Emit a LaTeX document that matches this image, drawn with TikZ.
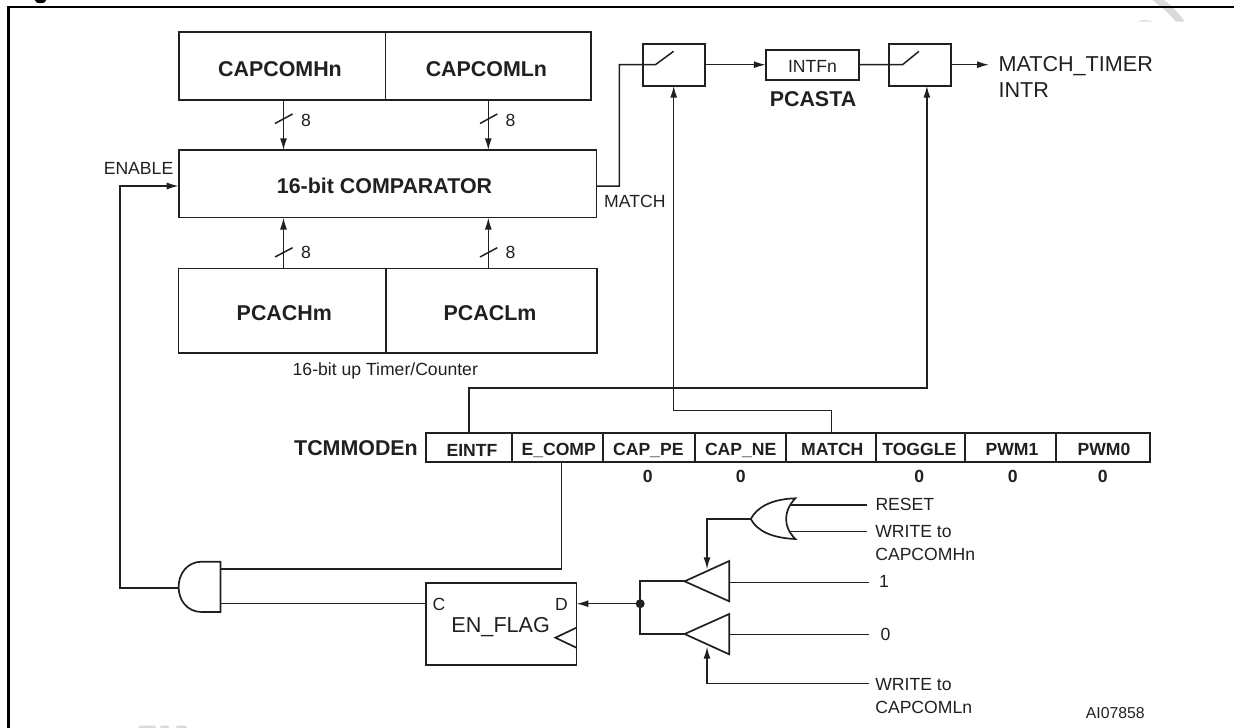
\documentclass[tikz,border=0pt]{standalone}
\usepackage{fontspec}
\setmainfont{Liberation Sans}
\usetikzlibrary{arrows.meta,calc}
\definecolor{ink}{HTML}{231F20}
\definecolor{wm}{HTML}{DADADA}
\tikzset{
  boxn/.style={draw=ink,line width=1.8pt,inner sep=0pt,outer sep=0pt},
  wire/.style={draw=ink,line width=1.5pt,line join=miter},
  arr/.style={wire,-{Latex[length=12pt,width=7pt]}},
  gate/.style={draw=ink,line width=1.7pt,line join=miter},
  big/.style={text=ink,inner sep=0pt,font=\bfseries\fontsize{21.4}{24}\selectfont,text height=15.4pt,text depth=0pt},
  bit/.style={text=ink,inner sep=0pt,font=\bfseries\fontsize{17.6}{20}\selectfont,text height=12.6pt,text depth=0pt},
  lab/.style={text=ink,inner sep=0pt,font=\fontsize{17.6}{20}\selectfont,text height=12.6pt,text depth=0pt},
  biglab/.style={text=ink,inner sep=0pt,font=\fontsize{21.6}{24}\selectfont,text height=15.5pt,text depth=0pt},
  twolab/.style={text=ink,inner sep=0pt,outer sep=0pt,anchor=north west,align=left,font=\fontsize{17.6}{22.4}\selectfont},
  wmark/.style={fill=wm,draw=none},
}
\newcommand{\rbox}[6]{%
  \pgfmathsetmacro{\rw}{#5-#3}\pgfmathsetmacro{\rh}{#6-#4}%
  \pgfmathsetmacro{\rx}{(#3+#5)/2}\pgfmathsetmacro{\ry}{(#4+#6)/2}%
  \node[#2,minimum width=\rw pt,minimum height=\rh pt] (#1) at (\rx,\ry) {};}
\begin{document}
\begin{tikzpicture}[x=1pt,y=-1pt]
\useasboundingbox (0,0) rectangle (1234,728);
\clip (0,0) rectangle (1234,728);
% faint remains of a watermark and the cut title
\fill[wmark] (1152.3,0) .. controls (1160,6) and (1168,12) .. (1175.7,21.7) -- (1184.7,21.7) .. controls (1179,13) and (1172,6) .. (1164,0) -- cycle;
\fill[wmark] (1137,21.7) .. controls (1142,19.5) and (1148,19.5) .. (1153,21.7) -- cycle;
\fill[wmark] (138,728) -- (140,725.5) -- (155,725.5) -- (156,728) -- cycle;
\fill[wmark] (160,728) -- (161,725.5) -- (168,725.5) -- (169,728) -- cycle;
\fill[wmark] (176,728) -- (177,725.5) -- (186,725.5) -- (187,728) -- cycle;
\fill[black] (40.5,0) ellipse (5.8pt and 3.2pt);
% frame
\draw[line width=2.8pt,black] (8.5,728) -- (8.5,7) -- (1234,7);

% registers and comparator
\rbox{caph}{boxn}{178.7}{32}{385.5}{99.7}
\rbox{capl}{boxn}{385.5}{32}{590.7}{99.7}
\rbox{cmp}{boxn}{178.7}{150.3}{596.5}{217.5}
\rbox{pcah}{boxn}{178.5}{268.5}{385.7}{353.3}
\rbox{pcal}{boxn}{385.7}{268.5}{597}{353.3}
\node[big] (caphT) at (280,69.2) {CAPCOMHn};
\node[big] (caplT) at (486.4,69) {CAPCOMLn};
\node[big] (cmpT) at (384.5,185.3) {16-bit COMPARATOR};
\node[big] (pcahT) at (284.3,312.3) {PCACHm};
\node[big] (pcalT) at (490,312.3) {PCACLm};
\node[lab] (timer) at (385.3,369) {16-bit up Timer/Counter};
\node[lab,anchor=west] (enable) at (103.6,168.5) {ENABLE};
\node[lab,anchor=west] (matchL) at (604,201) {MATCH};

% buses
\coordinate (b1) at (283.5,0);
\coordinate (b2) at (488.3,0);
\draw[arr] (caph.south -| b1) -- (cmp.north -| b1);
\draw[arr] (capl.south -| b2) -- (cmp.north -| b2);
\draw[arr] (pcah.north -| b1) -- (cmp.south -| b1);
\draw[arr] (pcal.north -| b2) -- (cmp.south -| b2);
\draw[wire] (275,123.5) -- (292.6,114);
\draw[wire] (480,123.5) -- (497.3,114);
\draw[wire] (275,257) -- (292.6,247.7);
\draw[wire] (480,257) -- (497.3,247.7);
\node[lab] (n1) at (306,120) {8};
\node[lab] (n2) at (510.5,120) {8};
\node[lab] (n3) at (306,252.5) {8};
\node[lab] (n4) at (510.5,252) {8};

% top signal chain
\rbox{sw1}{boxn}{643.3}{44.3}{704.7}{85.7}
\rbox{intf}{boxn}{765.8}{50.3}{859.2}{80.3}
\rbox{sw2}{boxn}{888.7}{44.3}{950.6}{85.7}
\node[lab] (intfT) at (812.5,66) {INTFn};
\node[big] (pcasta) at (813,99) {PCASTA};
\node[biglab,anchor=west] (mt) at (998.3,64) {MATCH\_TIMER};
\node[biglab,anchor=west] (intr) at (998.3,89.3) {INTR};
\coordinate (chain) at (0,64.7);
\coordinate (bl1) at (655.4,64.7);
\coordinate (bl2) at (902.5,64.7);
\coordinate (out) at (989,64.7);
\draw[wire] (cmp.east |- 0,186) -- (619.4,186) -- (619.4,64.7) -- (bl1) -- (673.6,51.3);
\draw[arr] (sw1.east |- chain) -- (intf.west |- chain);
\draw[wire] (intf.east |- chain) -- (bl2) -- (919,51.3);
\draw[arr] (sw2.east |- chain) -- (out);

% mode register
\rbox{eintf}{boxn}{425.7}{432.7}{512.3}{462.3}
\rbox{ecomp}{boxn}{512.3}{432.7}{603.3}{462.3}
\rbox{cappe}{boxn}{603.3}{432.7}{695}{462.3}
\rbox{capne}{boxn}{695}{432.7}{786.3}{462.3}
\rbox{match}{boxn}{786.3}{432.7}{876.3}{462.3}
\rbox{toggle}{boxn}{876.3}{432.7}{965}{462.3}
\rbox{pwmb}{boxn}{965}{432.7}{1056}{462.3}
\rbox{pwma}{boxn}{1056}{432.7}{1150.3}{462.3}
\node[big] (tcm) at (356,447.7) {TCMMODEn};
\node[bit] (t1) at (472,450) {EINTF};
\node[bit] (t2) at (558.7,448.7) {E\_COMP};
\node[bit] (t3) at (648.3,449) {CAP\_PE};
\node[bit] (t4) at (740.7,449) {CAP\_NE};
\node[bit] (t5) at (832.3,449) {MATCH};
\node[bit] (t6) at (919.3,449) {TOGGLE};
\node[bit] (t7) at (1012,449) {PWM1};
\node[bit] (t8) at (1104,449) {PWM0};
\node[bit] (z3) at (647.7,475.7) {0};
\node[bit] (z4) at (740.7,475.7) {0};
\node[bit] (z6) at (919.3,476.5) {0};
\node[bit] (z7) at (1012.7,475.7) {0};
\node[bit] (z8) at (1102.7,475.7) {0};

\draw[arr] (eintf.north) |- (926.9,388) -- (sw2.south -| 926.9,0);
\draw[arr] (match.north) |- (673.7,410.7) -- (sw1.south -| 673.7,0);

% AND gate, flip-flop
\draw[gate] (220.4,561.7) -- (201.8,561.7) .. controls (187,561.7) and (178.6,574) .. (178.6,587) .. controls (178.6,600) and (187,612) .. (201.8,612) -- (220.4,612) -- cycle;
\coordinate (andO) at (178.6,588);
\coordinate (andA) at (220.4,569);
\coordinate (andB) at (220.4,603.7);
\draw[arr] (andO) -- (120,588) -- (120,186) -- (cmp.west |- 0,186);
\draw[wire] (ecomp.south -| 561.4,0) -- (561.4,569) -- (andA);
\rbox{flag}{boxn}{425.7}{583}{576.4}{665}
\node[biglab] (flagT) at (500.7,624.3) {EN\_FLAG};
\node[lab] (fc) at (439,604) {C};
\node[lab] (fd) at (561.4,604) {D};
\draw[gate] (576.4,627.7) -- (555.4,637.7) -- (576.4,647.7);
\draw[wire] (flag.west |- andB) -- (andB);
\node[circle,fill=ink,minimum size=9pt,inner sep=0pt] (dot) at (640.2,603.7) {};
\draw[arr] (dot) -- (flag.east |- dot);

% tri-state buffers
\draw[gate] (684.6,581.3) -- (729.2,561) -- (729.2,601.3) -- cycle;
\draw[gate] (684.6,634) -- (729.2,614) -- (729.2,654.3) -- cycle;
\coordinate (bufA) at (684.6,581.3);
\coordinate (bufB) at (684.6,634);
\draw[gate] (bufA) -- (dot.center |- bufA) -- (dot.center |- bufB) -- (bufB);
\node[lab] (v1) at (884,581) {1};
\node[lab] (v0) at (885.5,634) {0};
\draw[wire] (729.2,582.3) -- (868.6,582.3);
\draw[wire] (729.2,634.3) -- (869,634.3);

% OR gate
\draw[gate] (795.4,498.3) .. controls (772,499) and (757,507) .. (750.8,519) .. controls (757,531) and (772,538) .. (795.4,539) .. controls (783,527) and (783,511) .. (795.4,498.3) -- cycle;
\coordinate (orO) at (750.8,519);
\node[lab,anchor=west] (reset) at (875.3,504) {RESET};
\node[twolab] (wh) at (875.3,525.6) {WRITE to\\CAPCOMHn};
\node[twolab] (wl) at (875.3,678.6) {WRITE to\\CAPCOMLn};
\node[text=ink,inner sep=0pt,font=\fontsize{15.8}{18}\selectfont,text height=11.3pt,text depth=0pt] (ai) at (1115.3,712.7) {AI07858};
\draw[wire] (790.3,505) -- (866.7,505);
\draw[wire] (790.3,531.3) -- (866.7,531.3);
\draw[arr] (orO) -- (707,519) -- (707,569.3);
\draw[arr] (869,683.7) -- (707,683.7) -- (707,646.7);
\end{tikzpicture}
\end{document}
